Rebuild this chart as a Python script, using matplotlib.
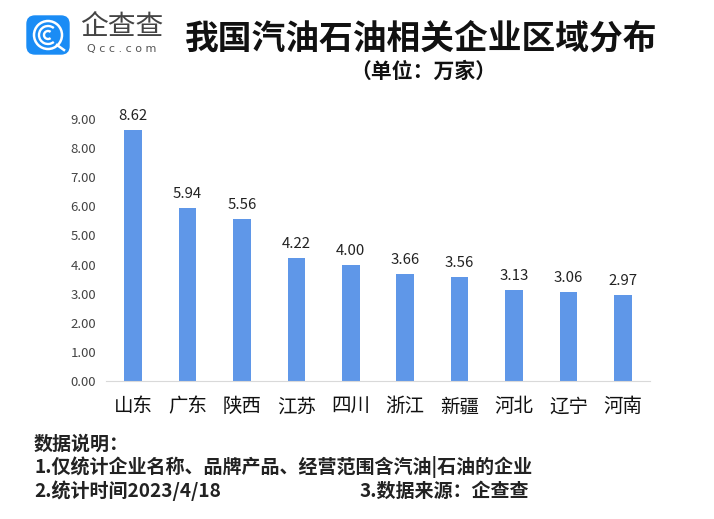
import matplotlib
matplotlib.use('Agg')
import matplotlib.pyplot as plt
from matplotlib.patches import FancyBboxPatch, Arc, Circle

plt.rcParams['font.family'] = ['Noto Sans CJK SC', 'DejaVu Sans']

provinces = ['山东', '广东', '陕西', '江苏', '四川', '浙江', '新疆', '河北', '辽宁', '河南']
counts = [8.62, 5.94, 5.56, 4.22, 4.00, 3.66, 3.56, 3.13, 3.06, 2.97]
y_ticks = [0, 1, 2, 3, 4, 5, 6, 7, 8, 9]

W, H = 714, 519


def main():
    fig = plt.figure(figsize=(W / 100, H / 100), dpi=100)
    ax = fig.add_axes([106 / W, 1 - 381 / H, 544 / W, 262 / H])
    ax.bar(range(len(counts)), counts, width=0.32, color='#5f97e8')
    for i, v in enumerate(counts):
        ax.text(i, v + 0.24, '%.2f' % v, ha='center', va='bottom', fontsize=10.8, color='#222222',
                clip_on=False)
    ax.set_xlim(-0.5, 9.5)
    ax.set_ylim(0, 9)
    ax.set_yticks(y_ticks)
    ax.set_yticklabels(['%.2f' % t for t in y_ticks], fontsize=9.5, color='#444444')
    ax.set_xticks(range(len(provinces)))
    ax.set_xticklabels(provinces, fontsize=14, color='#111111')
    ax.tick_params(length=0)
    ax.tick_params(axis='x', pad=11)
    ax.tick_params(axis='y', pad=7)
    for s in ['top', 'right', 'left']:
        ax.spines[s].set_visible(False)
    ax.spines['bottom'].set_color('#d9d9d9')

    # logo, drawn in pixel coords
    lg = fig.add_axes([0, 0, 1, 1], facecolor='none')
    lg.set_xlim(0, W)
    lg.set_ylim(H, 0)
    lg.axis('off')
    lg.add_patch(FancyBboxPatch((27, 16), 42, 38, boxstyle='round,pad=0,rounding_size=8',
                                fc='#1a8cf5', ec='#1a8cf5', lw=1))
    lg.add_patch(Circle((48, 35), 14, fc='none', ec='white', lw=1.8))
    lg.add_patch(Arc((48, 35), 18, 18, theta1=50, theta2=310, ec='white', lw=1.7))
    lg.add_patch(Arc((48, 35), 8, 8, theta1=50, theta2=310, ec='white', lw=1.7))
    lg.plot([57, 64], [45, 50], color='white', lw=1.8)
    lg.text(122, 27, '企查查', fontsize=20, ha='center', va='center', color='#444444')
    lg.text(122, 49, 'Q c c . c o m', fontsize=8, ha='center', va='center', color='#555555',
            family='DejaVu Sans')

    lg.text(421.5, 38, '我国汽油石油相关企业区域分布', fontsize=24.3, fontweight='bold',
            ha='center', va='center', color='#111111')
    lg.text(423, 71, '（单位：万家）', fontsize=15, fontweight='bold',
            ha='center', va='center', color='#111111')

    lg.text(34, 444, '数据说明：', fontsize=13.7, fontweight='bold', va='center', color='#222222')
    lg.text(34, 467, '1.仅统计企业名称、品牌产品、经营范围含汽油|石油的企业', fontsize=13.7,
            fontweight='bold', va='center', color='#222222')
    lg.text(34, 491, '2.统计时间2023/4/18', fontsize=13.7, fontweight='bold', va='center', color='#222222')
    lg.text(359, 491, '3.数据来源：企查查', fontsize=13.7, fontweight='bold', va='center', color='#222222')

    fig.savefig('out.png', dpi=100, facecolor='white')


if __name__ == '__main__':
    main()
